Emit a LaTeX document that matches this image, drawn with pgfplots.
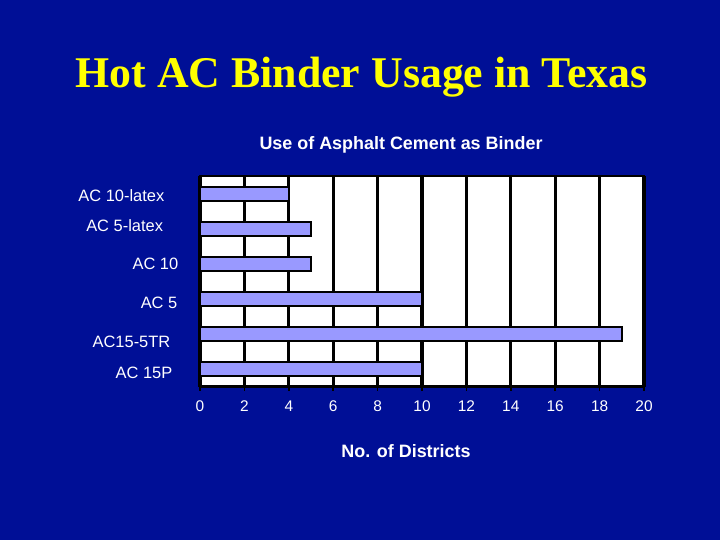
\documentclass[border=0pt]{standalone}
\usepackage{pgfplots}
\pgfplotsset{compat=1.18}
\usepackage{fontspec}
\setmainfont{Liberation Sans}
\newfontfamily\timesfont{Liberation Serif}
\definecolor{bgblue}{RGB}{0,15,150}
\definecolor{barfill}{RGB}{153,153,255}
\definecolor{titleyellow}{RGB}{255,255,0}
\begin{document}
\begin{tikzpicture}
\useasboundingbox (0bp,0bp) rectangle (720bp,540bp);
\fill[bgblue] (0bp,0bp) rectangle (720bp,540bp);
\node[anchor=base,text=titleyellow,inner sep=0pt,font=\timesfont\bfseries\fontsize{44}{48}\selectfont] at (361.5bp,452bp) {Hot AC Binder Usage in Texas};
\node[anchor=base,text=white,inner sep=0pt,font=\bfseries\fontsize{18}{21}\selectfont] at (401bp,390bp) {Use of Asphalt Cement as Binder};
\node[anchor=base,text=white,inner sep=0pt,font=\bfseries\fontsize{18}{21}\selectfont] at (406bp,82bp) {No. of Districts};
\begin{axis}[
  at={(200bp,153.3bp)}, anchor=south west,
  width=444bp, height=210.7bp, scale only axis,
  xmin=0, xmax=20, ymin=-0.5, ymax=5.5,
  xtick={0,2,...,20},
  ytick={0,1,2,3,4,5},
  yticklabels={
    {\raisebox{-9.4bp}{AC 15P}\hspace*{6bp}},
    {\raisebox{-13.9bp}{AC15-5TR}\hspace*{8bp}},
    {\raisebox{-9.9bp}{AC 5}\hspace*{1bp}},
    {\raisebox{-5.9bp}{AC 10}\hspace*{0bp}},
    {\raisebox{-2.9bp}{AC 5-latex}\hspace*{15.3bp}},
    {\raisebox{-7.9bp}{AC 10-latex}\hspace*{14bp}}},
  yticklabel style={anchor=base east, inner sep=0pt, xshift=-17.5bp, text=white, font=\fontsize{16.5}{19}\selectfont},
  xticklabel style={anchor=north, inner sep=0pt, yshift=-10bp, text=white, font=\fontsize{15.5}{18}\selectfont},
  /pgf/number format/assume math mode=true,
  ytick style={draw=none},
  xtick style={black, line width=1.5bp},
  major tick length=4bp,
  xtick pos=bottom, xtick align=outside,
  xmajorgrids=true,
  major grid style={black, line width=3.2bp},
  axis line style={black, line width=2.5bp},
  axis background/.style={fill=white},
  xbar, bar width=14bp,
]
\addplot[fill=barfill, draw=black, line width=2bp] coordinates {
  (10,0) (19,1) (10,2) (5,3) (5,4) (4,5)
};
\end{axis}
\end{tikzpicture}
\end{document}
